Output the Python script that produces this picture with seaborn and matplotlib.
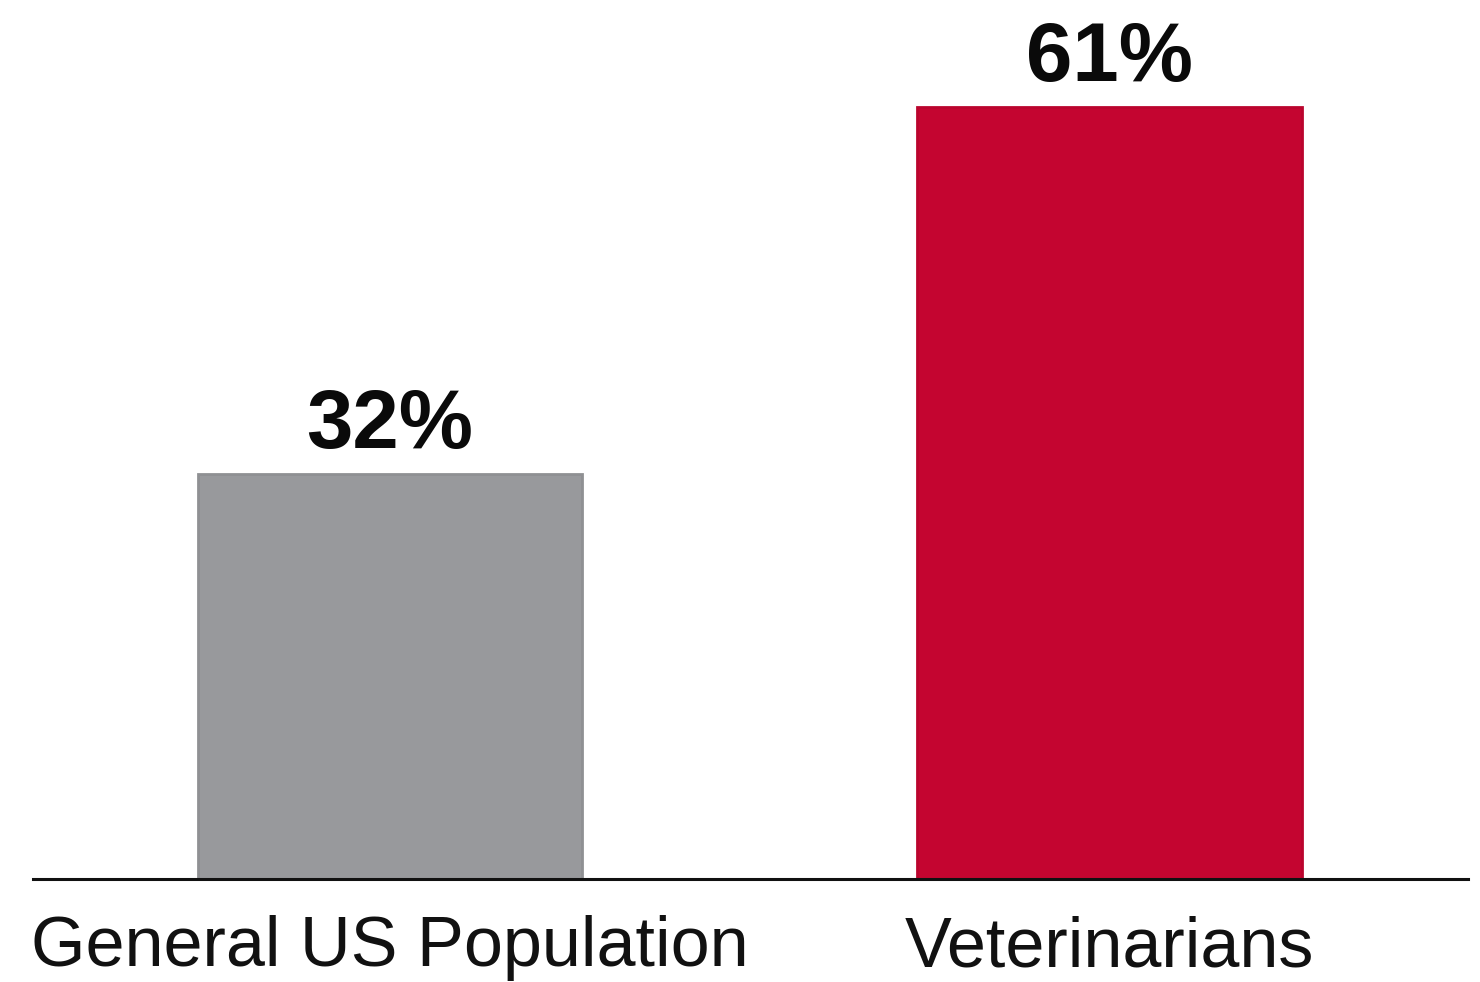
import matplotlib
matplotlib.use("Agg")
import matplotlib.pyplot as plt
import seaborn as sns
import pandas as pd

categories = ["General US Population", "Veterinarians"]
values = [32, 61]
value_labels = ["32%", "61%"]
colors = ["#98999C", "#C40530"]
edge_colors = ["#8F9093", "#BA042D"]

sns.set_theme(style="white")
plt.rcParams['font.family'] = ['Liberation Sans', 'DejaVu Sans']

df = pd.DataFrame({"group": categories, "pct": values})

fig = plt.figure(figsize=(14.8, 9.82), dpi=100)
ax = fig.add_axes([33/1480, (982-879)/982, 1435/1480, 879/982])
sns.barplot(data=df, x="group", y="pct", hue="group", palette=colors,
            width=0.535, ax=ax, legend=False, saturation=1)
for patch, ec in zip(ax.patches, edge_colors):
    patch.set_edgecolor(ec)
    patch.set_linewidth(2)

ax.set_xlim(-0.4965, 1.499)
ax.set_ylim(0, 879/12.65)
for s in ["top", "right", "left"]:
    ax.spines[s].set_visible(False)
ax.spines["bottom"].set_color("#111111")
ax.spines["bottom"].set_linewidth(2.2)
ax.set_yticks([])
ax.set_xlabel("")
ax.set_ylabel("")
ax.tick_params(axis="x", length=0, pad=26, labelsize=50.5, labelcolor="#111111")

for i, (v, lab) in enumerate(zip(values, value_labels)):
    ax.annotate(lab, (i, v), xytext=(0, 19), textcoords="offset points",
                ha="center", va="baseline", fontsize=60, fontweight="bold",
                color="#0a0a0a")

fig.savefig("out.png", dpi=100, facecolor="white")
